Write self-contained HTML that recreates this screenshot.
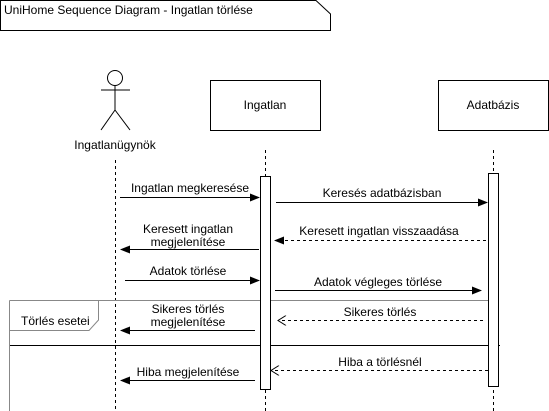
<!DOCTYPE html>
<html><head><style>body{margin:0;background:#fff}svg{display:block}text{font-family:"Liberation Sans",sans-serif;font-size:12px;fill:#000}</style></head><body>
<svg width="549" height="411" viewBox="0 0 549 411">
<defs>
<marker id="f" markerWidth="10" markerHeight="8" refX="9" refY="4" orient="auto" markerUnits="userSpaceOnUse"><path d="M0,0 L10,4 L0,8 Z" fill="#000"/></marker>
<marker id="o" markerWidth="10" markerHeight="10" refX="9" refY="5" orient="auto" markerUnits="userSpaceOnUse"><path d="M1,0 L9,5 L1,10" fill="none" stroke="#000"/></marker>
</defs>
<g stroke="#000" fill="none">
<path d="M0.5,0.5 H316 L330.5,14 V30.5 H0.5 Z" fill="#fff"/>
<circle cx="115" cy="78" r="7.5"/>
<path d="M115,86 V110 M101,90 H130 M115,110 L101,130 M115,110 L130,130"/>
<rect x="210.5" y="80.5" width="110" height="50" fill="#fff"/>
<rect x="438.5" y="80.5" width="110" height="50" fill="#fff"/>
<g stroke-dasharray="3,3"><path d="M115.5,160 V411 M265.5,150 V411 M493.5,150 V411"/></g>
<path d="M9.5,300.5 H499 M9.5,300.5 V411 M9.5,330.5 H89 L98.5,320 V300.5" stroke="#888"/>
<path d="M10,345.5 H500"/>
<rect x="260.5" y="176.5" width="10" height="213" fill="#fff"/>
<rect x="488.5" y="173.5" width="10" height="213" fill="#fff"/>
<path d="M120,197.5 H259" marker-end="url(#f)"/>
<path d="M276,202.5 H487" marker-end="url(#f)"/>
<path d="M486,240.5 H275" stroke-dasharray="3,3" marker-end="url(#f)"/>
<path d="M259,249.5 H121" marker-end="url(#f)"/>
<path d="M125,280.5 H259" marker-end="url(#f)"/>
<path d="M275,290.5 H481" marker-end="url(#f)"/>
<path d="M483,320.5 H278" stroke-dasharray="3,3" marker-end="url(#o)"/>
<path d="M255,330.5 H121" marker-end="url(#f)"/>
<path d="M488,370.5 H271" stroke-dasharray="3,3" marker-end="url(#o)"/>
<path d="M255,380.5 H121" marker-end="url(#f)"/>
</g>
<text x="4" y="14">UniHome Sequence Diagram - Ingatlan törlése</text>
<text x="115" y="149" text-anchor="middle">Ingatlanügynök</text>
<text x="265" y="109" text-anchor="middle">Ingatlan</text>
<text x="493" y="109" text-anchor="middle">Adatbázis</text>
<text x="21" y="325">Törlés esetei</text>
<g text-anchor="middle" style="font-size:11px">
<text x="190" y="192">Ingatlan megkeresése</text>
<text x="382" y="197">Keresés adatbázisban</text>
<text x="379" y="235">Keresett ingatlan visszaadása</text>
<text x="188" y="233">Keresett ingatlan</text>
<text x="188" y="246">megjelenítése</text>
<text x="188" y="275">Adatok törlése</text>
<text x="378" y="286">Adatok végleges törlése</text>
<text x="380" y="316">Sikeres törlés</text>
<text x="188" y="313">Sikeres törlés</text>
<text x="188" y="326">megjelenítése</text>
<text x="380" y="366">Hiba a törlésnél</text>
<text x="188" y="376">Hiba megjelenítése</text>
</g>
</svg>
</body></html>
